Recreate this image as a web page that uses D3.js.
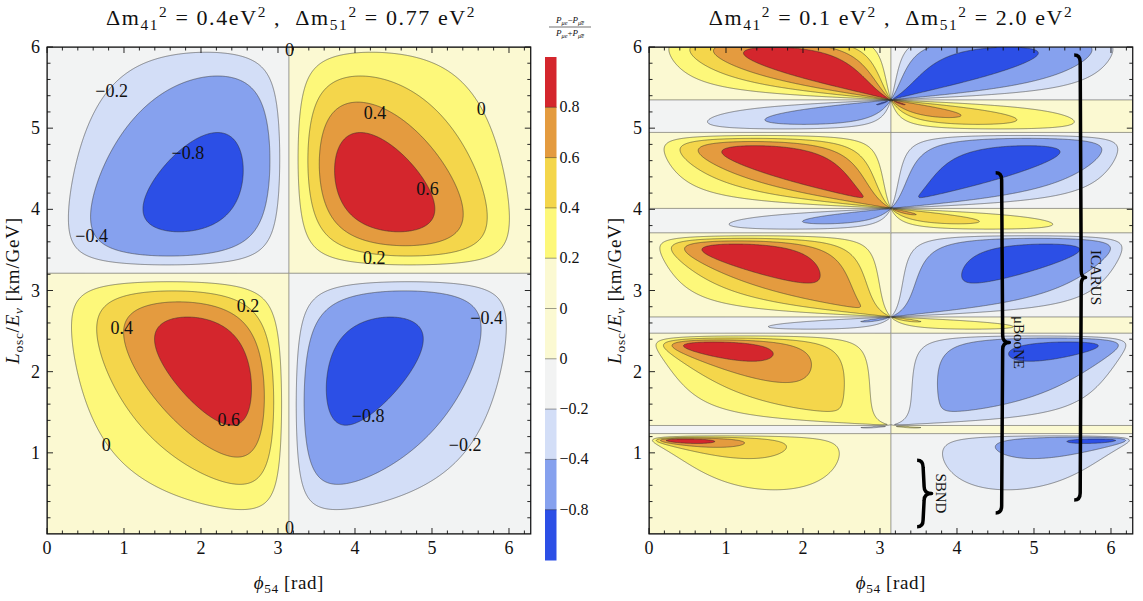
<!DOCTYPE html>
<html>
<head>
<meta charset="utf-8">
<script src="https://cdn.jsdelivr.net/npm/d3@7"></script>
<style>
  body { margin: 0; background: #fff; }
  svg { display: block; }
  text { font-family: "Liberation Serif", "DejaVu Serif", serif; fill: #111; white-space: pre; }
</style>
</head>
<body>
<svg id="chart" width="1143" height="601"></svg>
<script>
// ---- oscillation parameters for the two panels (eV^2) ----
const dm41 = [0.4, 0.15];
const dm51 = [0.77, 2.0];
const dm41Text = ["0.4eV", "0.1 eV"];
const dm51Text = ["0.77 eV", "2.0 eV"];
const K = 1.27;                 // phase factor for L[km]/E[GeV], dm^2[eV^2]
const phiDomain = [0, 2 * Math.PI];
const leDomain = [0, 6];

// ---- contour levels and fills (lowest band first) ----
const levels = [-0.8, -0.4, -0.2, 0, 0.2, 0.4, 0.6, 0.8];
const bandColors = ["#2c4fe6", "#86a1ee", "#d3def7", "#f2f3f3", "#fbf9d2",
                    "#fdf87a", "#f4d64b", "#e49b3f", "#d4262d"];

// ---- colour legend (top to bottom) ----
const legendColors = ["#d4262d", "#e49b3f", "#f4d64b", "#fdf87a", "#fbf9d2",
                      "#fbf9d2", "#f2f3f3", "#d3def7", "#86a1ee", "#2c4fe6"];
const legendLabels = ["0.8", "0.6", "0.4", "0.2", "0", "0", "\u22120.2", "\u22120.4", "\u22120.8"];

// ---- axis ticks ----
const xTicks = [0, 1, 2, 3, 4, 5, 6];
const yTicks = [1, 2, 3, 4, 5, 6];

// ---- inline contour labels of the left panel ----
const labelText = ["\u22120.2", "\u22120.8", "\u22120.4", "0", "0.4", "0", "0.6", "0.2",
                   "0.2", "0.4", "0.6", "0", "\u22120.4", "\u22120.8", "\u22120.2", "0"];
const labelPhi = [0.84, 1.83, 0.58, 3.15, 4.26, 5.64, 4.94, 4.25,
                  2.61, 0.97, 2.36, 0.77, 5.71, 4.17, 5.43, 3.15];
const labelLE  = [5.46, 4.70, 3.67, 5.96, 5.19, 5.23, 4.25, 3.40,
                  2.81, 2.54, 1.41, 1.10, 2.66, 1.45, 1.10, 0.08];

// ---- experiment ranges marked on the right panel ----
const expNames = ["SBND", "\u03bcBooNE", "ICARUS"];
const expPhi   = [3.56, 4.58, 5.60];   // brace spine
const expTip   = [3.67, 4.68, 5.67];   // brace tip
const expLow   = [0.09, 0.26, 0.42];
const expHigh  = [0.91, 4.45, 5.90];
const expMid   = [0.50, 2.36, 3.16];
const expTextPhi = [3.79, 4.80, 5.80];

// ---- layout ----
const panels = [
  { x0: 47, x1: 530.8, titleX: 291 },
  { x0: 649, x1: 1132.8, titleX: 891 }
];
const plotTop = 47, plotBottom = 534;

const svg = d3.select("#chart");

function rich(g, x, y, parts, size, anchor, spacing) {
  const t = g.append("text").attr("x", x).attr("y", y)
    .attr("text-anchor", anchor || "middle").attr("font-size", size);
  if (spacing) t.attr("letter-spacing", spacing);
  let cur = 0;
  parts.forEach(p => {
    const off = p.off || 0;
    const ts = t.append("tspan").attr("dy", off - cur).text(p.t);
    if (p.scale) ts.attr("font-size", size * p.scale);
    if (p.italic) ts.attr("font-style", "italic");
    cur = off;
  });
  return t;
}

// CP asymmetry (P - Pbar)/(P + Pbar) for equal mixing of the two sterile states
function asymmetry(phi, le, m41, m51) {
  const x41 = K * m41 * le, x51 = K * m51 * le, x54 = x51 - x41;
  const s4 = Math.sin(x41), s5 = Math.sin(x51);
  const num = 2 * s4 * s5 * Math.sin(x54) * Math.sin(phi);
  const den = s4 * s4 + s5 * s5 + 2 * s4 * s5 * Math.cos(x54) * Math.cos(phi);
  const v = num / den;
  return isFinite(v) ? Math.max(-1, Math.min(1, v)) : 0;
}

panels.forEach((p, k) => {
  const x = d3.scaleLinear(phiDomain, [p.x0, p.x1]);
  const y = d3.scaleLinear(leDomain, [plotBottom, plotTop]);
  const g = svg.append("g");

  const clipId = "clip" + k;
  svg.append("clipPath").attr("id", clipId).append("rect")
    .attr("x", p.x0).attr("y", plotTop).attr("width", p.x1 - p.x0).attr("height", plotBottom - plotTop);

  // sample the field on a pixel-sized grid (cell centres)
  const n = Math.round(p.x1 - p.x0), m = Math.round(plotBottom - plotTop);
  const vals = new Float64Array(n * m);
  for (let j = 0; j < m; j++) {
    const le = leDomain[1] - (j + 0.5) * (leDomain[1] - leDomain[0]) / m;
    for (let i = 0; i < n; i++) {
      const ph = (i + 0.5) * (phiDomain[1] - phiDomain[0]) / n;
      vals[j * n + i] = asymmetry(ph, le, dm41[k], dm51[k]);
    }
  }
  const contours = d3.contours().size([n, m]).thresholds(levels)(vals);
  const proj = d3.geoTransform({
    point(gx, gy) {
      this.stream.point(x(gx * (phiDomain[1] - phiDomain[0]) / n),
                        y(leDomain[1] - gy * (leDomain[1] - leDomain[0]) / m));
    }
  });
  const path = d3.geoPath(proj);

  const plot = g.append("g").attr("clip-path", `url(#${clipId})`);
  plot.append("rect").attr("x", p.x0).attr("y", plotTop)
    .attr("width", p.x1 - p.x0).attr("height", plotBottom - plotTop)
    .attr("fill", bandColors[0]);
  plot.selectAll("path.fill").data(contours).join("path")
    .attr("class", "fill").attr("d", path)
    .attr("fill", (d, i) => bandColors[i + 1]);
  plot.selectAll("path.line").data(contours).join("path")
    .attr("class", "line").attr("d", path)
    .attr("fill", "none").attr("stroke", "#2a2a2a").attr("stroke-opacity", 0.55)
    .attr("stroke-width", 0.9);

  // frame
  g.append("rect").attr("x", p.x0).attr("y", plotTop)
    .attr("width", p.x1 - p.x0).attr("height", plotBottom - plotTop)
    .attr("fill", "none").attr("stroke", "#111").attr("stroke-width", 1.1);

  // ticks on all four sides, pointing inward
  const ticks = g.append("g").attr("stroke", "#111").attr("stroke-width", 0.9);
  const xMinor = d3.range(0, 6.3, 0.2).filter(v => Math.abs(v - Math.round(v)) > 1e-6);
  const yMinor = d3.range(0.2, 6, 0.2).filter(v => Math.abs(v - Math.round(v)) > 1e-6);
  xTicks.forEach(v => {
    ticks.append("line").attr("x1", x(v)).attr("x2", x(v)).attr("y1", plotBottom).attr("y2", plotBottom - 6);
    ticks.append("line").attr("x1", x(v)).attr("x2", x(v)).attr("y1", plotTop).attr("y2", plotTop + 6);
  });
  xMinor.forEach(v => {
    ticks.append("line").attr("x1", x(v)).attr("x2", x(v)).attr("y1", plotBottom).attr("y2", plotBottom - 3.5);
    ticks.append("line").attr("x1", x(v)).attr("x2", x(v)).attr("y1", plotTop).attr("y2", plotTop + 3.5);
  });
  yTicks.forEach(v => {
    ticks.append("line").attr("y1", y(v)).attr("y2", y(v)).attr("x1", p.x0).attr("x2", p.x0 + 6);
    ticks.append("line").attr("y1", y(v)).attr("y2", y(v)).attr("x1", p.x1).attr("x2", p.x1 - 6);
  });
  yMinor.forEach(v => {
    ticks.append("line").attr("y1", y(v)).attr("y2", y(v)).attr("x1", p.x0).attr("x2", p.x0 + 3.5);
    ticks.append("line").attr("y1", y(v)).attr("y2", y(v)).attr("x1", p.x1).attr("x2", p.x1 - 3.5);
  });

  // tick labels
  xTicks.forEach(v => g.append("text").attr("x", x(v)).attr("y", 554)
    .attr("text-anchor", "middle").attr("font-size", 18).text(v));
  yTicks.forEach(v => g.append("text").attr("x", p.x0 - 7).attr("y", y(v) + 6)
    .attr("text-anchor", "end").attr("font-size", 18).text(v));

  // axis titles
  rich(g, (p.x0 + p.x1) / 2, 589,
    [{ t: "\u03d5", italic: true }, { t: "54", off: 4, scale: 0.7 }, { t: " [rad]", off: 0 }], 19, "middle", 0.6);
  const yl = g.append("g").attr("transform", `translate(${p.x0 - 28},${(plotTop + plotBottom) / 2}) rotate(-90)`);
  rich(yl, 0, 0,
    [{ t: "L", italic: true }, { t: "osc", off: 4, scale: 0.7 }, { t: "/", off: 0 },
     { t: "E", italic: true }, { t: "\u03bd", off: 4, scale: 0.7, italic: true }, { t: " [km/GeV]", off: 0 }], 19, "middle", 0.8);

  // panel title
  rich(g, p.titleX, 25,
    [{ t: "\u0394m" }, { t: "41", off: 5, scale: 0.7 }, { t: "2", off: -8, scale: 0.7 },
     { t: " = " + dm41Text[k], off: 0 }, { t: "2", off: -8, scale: 0.7 },
     { t: " ,  \u0394m", off: 0 }, { t: "51", off: 5, scale: 0.7 }, { t: "2", off: -8, scale: 0.7 },
     { t: " = " + dm51Text[k], off: 0 }, { t: "2", off: -8, scale: 0.7 }], 22, "middle", 1.6);

  if (k === 0) {
    labelText.forEach((t, i) => g.append("text")
      .attr("x", x(labelPhi[i])).attr("y", y(labelLE[i]) + 6)
      .attr("text-anchor", "middle").attr("font-size", 18).text(t));
  } else {
    expNames.forEach((name, i) => {
      const xs = x(expPhi[i]), xt = x(expTip[i]);
      const yTop = y(expHigh[i]), yBot = y(expLow[i]), yMid = y(expMid[i]);
      const c = Math.min(7, (yBot - yTop) / 6);
      const d = `M${xs - 6},${yTop} Q${xs},${yTop} ${xs},${yTop + c}` +
        ` L${xs + 1},${yMid - c} Q${xs + 1},${yMid} ${xt},${yMid}` +
        ` Q${xs + 1},${yMid} ${xs + 1},${yMid + c}` +
        ` L${xs},${yBot - c} Q${xs},${yBot} ${xs - 6},${yBot}`;
      g.append("path").attr("d", d).attr("fill", "none")
        .attr("stroke", "#000").attr("stroke-width", 3.5).attr("stroke-linejoin", "round");
      g.append("text")
        .attr("transform", `translate(${x(expTextPhi[i])},${yMid}) rotate(90)`)
        .attr("text-anchor", "middle").attr("dy", 5).attr("font-size", 15).text(name);
    });
  }
});

// ---- colour legend ----
const lg = svg.append("g");
const barX = 545, barW = 11.5, barTop = 57, barBottom = 560;
const segH = (barBottom - barTop) / legendColors.length;
legendColors.forEach((c, i) => lg.append("rect")
  .attr("x", barX).attr("y", barTop + i * segH).attr("width", barW).attr("height", segH + 0.5)
  .attr("fill", c));
legendLabels.forEach((t, i) => {
  const yy = barTop + (i + 1) * segH;
  lg.append("line").attr("x1", barX).attr("x2", barX + barW).attr("y1", yy).attr("y2", yy)
    .attr("stroke", "#333").attr("stroke-opacity", 0.6).attr("stroke-width", 0.8);
  lg.append("text").attr("x", barX + barW + 3).attr("y", yy + 5).attr("font-size", 16).text(t);
});
// legend heading: (P - Pbar)/(P + Pbar)
const fx = 570;
rich(lg, fx, 23, [{ t: "P", italic: true }, { t: "\u03bce", off: 2, scale: 0.7, italic: true },
  { t: "\u2212", off: 0 }, { t: "P", italic: true }, { t: "\u03bc\u0304e\u0304", off: 2, scale: 0.7, italic: true }], 9);
lg.append("line").attr("x1", fx - 21).attr("x2", fx + 21).attr("y1", 27).attr("y2", 27)
  .attr("stroke", "#111").attr("stroke-width", 0.6);
rich(lg, fx, 36, [{ t: "P", italic: true }, { t: "\u03bce", off: 2, scale: 0.7, italic: true },
  { t: "+", off: 0 }, { t: "P", italic: true }, { t: "\u03bc\u0304e\u0304", off: 2, scale: 0.7, italic: true }], 9);
</script>
</body>
</html>
